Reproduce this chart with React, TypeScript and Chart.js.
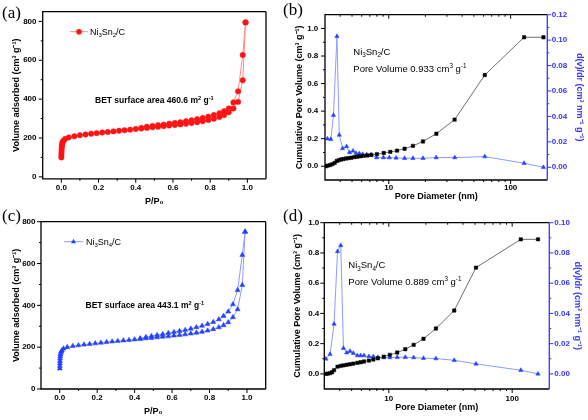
import React, { useEffect, useRef } from "react";
import { Chart, registerables } from "chart.js";

Chart.register(...registerables);

const SANS = "'Liberation Sans', Arial, Helvetica, sans-serif";
const SERIF = "'Liberation Serif', 'Times New Roman', serif";
const W = 588;
const H = 420;

// ---------- (a) Ni3Sn2/C N2 isotherm ----------
const aAdsP = [0.0003, 0.0006, 0.001, 0.0015, 0.002, 0.003, 0.004, 0.006, 0.008, 0.012, 0.02, 0.04, 0.07, 0.1, 0.13, 0.16, 0.19, 0.22, 0.25, 0.28, 0.31, 0.34, 0.37, 0.4, 0.43, 0.46, 0.49, 0.52, 0.55, 0.58, 0.61, 0.64, 0.67, 0.7, 0.73, 0.76, 0.79, 0.82, 0.85, 0.875, 0.9, 0.925, 0.95, 0.975, 0.99];
const aAdsV = [100, 112, 124, 136, 148, 158, 167, 175, 181, 186, 195, 203, 209, 214, 218, 222, 225, 228, 231, 234, 237, 240, 243, 246, 249, 252, 255, 258, 261, 264, 267, 270, 273, 277, 281, 286, 292, 299, 308, 318, 332, 352, 386, 497, 795];
const aDesP = [0.99, 0.975, 0.95, 0.925, 0.9, 0.875, 0.85, 0.82, 0.79, 0.76, 0.73, 0.7, 0.67, 0.64, 0.61, 0.58, 0.55, 0.52, 0.49, 0.46, 0.43];
const aDesV = [795, 627, 440, 383, 352, 338, 327, 318, 310, 303, 297, 291, 286, 281, 277, 273, 269, 266, 262, 258, 252];

// ---------- (c) Ni3Sn4/C N2 isotherm ----------
const cAdsP = [0.0003, 0.0006, 0.001, 0.0015, 0.002, 0.003, 0.004, 0.006, 0.008, 0.012, 0.02, 0.04, 0.07, 0.1, 0.13, 0.16, 0.19, 0.22, 0.25, 0.28, 0.31, 0.34, 0.37, 0.4, 0.43, 0.46, 0.49, 0.52, 0.55, 0.58, 0.61, 0.64, 0.67, 0.7, 0.73, 0.76, 0.79, 0.82, 0.85, 0.875, 0.9, 0.925, 0.95, 0.975, 0.99];
const cAdsV = [98, 110, 122, 134, 146, 156, 165, 173, 179, 184, 193, 200, 205, 209, 212, 215, 218, 221, 224, 227, 229, 232, 234, 237, 239, 242, 244, 247, 250, 252, 255, 258, 261, 265, 269, 273, 279, 286, 295, 305, 319, 343, 381, 497, 752];
const cDesP = [0.99, 0.975, 0.95, 0.925, 0.9, 0.875, 0.85, 0.82, 0.79, 0.76, 0.73, 0.7, 0.67, 0.64, 0.61, 0.58, 0.55, 0.52, 0.49, 0.46, 0.43];
const cDesV = [752, 641, 473, 405, 370, 349, 333, 320, 310, 302, 295, 288, 282, 277, 272, 267, 262, 258, 253, 248, 242];

// ---------- (b) Ni3Sn2/C pore distribution ----------
const bCumD = [3.05, 3.15, 3.3, 3.45, 3.6, 3.75, 3.9, 4.06, 4.24, 4.46, 4.68, 4.93, 5.22, 5.52, 5.85, 6.23, 6.68, 7.2, 8.0, 9.1, 10.3, 11.7, 13.5, 15.8, 19.1, 24.6, 34.7, 61.4, 129, 186];
const bCumV = [0.0, 0.004, 0.009, 0.015, 0.024, 0.038, 0.044, 0.049, 0.052, 0.056, 0.059, 0.062, 0.066, 0.069, 0.072, 0.075, 0.078, 0.082, 0.088, 0.096, 0.104, 0.113, 0.127, 0.148, 0.18, 0.236, 0.338, 0.662, 0.936, 0.936];
const bDvD = [3.14, 3.35, 3.52, 3.76, 3.93, 4.18, 4.51, 4.77, 5.09, 5.39, 5.74, 6.11, 6.59, 7.16, 7.96, 9.04, 10.1, 11.5, 13.5, 15.8, 19.1, 24.5, 34.8, 61.4, 129, 186];
const bDvV = [0.0225, 0.022, 0.041, 0.103, 0.0254, 0.0148, 0.0164, 0.0116, 0.0129, 0.0111, 0.0108, 0.0103, 0.01, 0.0098, 0.0076, 0.0076, 0.0076, 0.0074, 0.0071, 0.0071, 0.0071, 0.0076, 0.0076, 0.0084, 0.0032, 0.0];

// ---------- (d) Ni3Sn4/C pore distribution ----------
const dCumD = [3.09, 3.2, 3.34, 3.47, 3.6, 3.84, 4.08, 4.29, 4.56, 4.85, 5.16, 5.56, 5.91, 6.29, 6.9, 7.49, 8.15, 9.1, 10.2, 11.7, 13.6, 15.9, 19.1, 24.1, 33.9, 50.9, 117.5, 162];
const dCumV = [0.0, 0.002, 0.005, 0.011, 0.025, 0.048, 0.053, 0.056, 0.06, 0.064, 0.068, 0.073, 0.077, 0.082, 0.088, 0.095, 0.103, 0.114, 0.126, 0.141, 0.163, 0.192, 0.232, 0.3, 0.419, 0.703, 0.89, 0.89];
const dDvD = [3.09, 3.34, 3.6, 3.84, 4.08, 4.29, 4.56, 4.85, 5.16, 5.56, 5.91, 6.29, 6.9, 7.49, 8.15, 9.1, 10.2, 11.7, 13.6, 15.9, 19.1, 24.1, 33.9, 50.9, 117.5, 162];
const dDvV = [0.0099, 0.013, 0.033, 0.081, 0.085, 0.017, 0.014, 0.015, 0.0137, 0.0121, 0.0121, 0.0121, 0.0115, 0.0115, 0.011, 0.0108, 0.0108, 0.011, 0.011, 0.0108, 0.0104, 0.0101, 0.009, 0.0066, 0.0024, 0.0];

// ---------- tick lists ----------
const isoXTicks = [0, 0.2, 0.4, 0.6, 0.8, 1.0];
const isoXMinor = [0.1, 0.3, 0.5, 0.7, 0.9];
const isoYTicks = [0, 200, 400, 600, 800];
const isoYMinor = [100, 300, 500, 700];
const poreXTicks = [10, 100];
const poreXMinor = [4, 5, 6, 7, 8, 9, 20, 30, 40, 50, 60, 70, 80, 90];
const cumTicks = [0, 0.2, 0.4, 0.6, 0.8, 1.0];
const cumMinor = [0.1, 0.3, 0.5, 0.7, 0.9];
const dvTicksB = [0, 0.02, 0.04, 0.06, 0.08, 0.1, 0.12];
const dvMinorB = [0.01, 0.03, 0.05, 0.07, 0.09, 0.11];
const dvTicksD = [0, 0.02, 0.04, 0.06, 0.08, 0.1];
const dvMinorD = [0.01, 0.03, 0.05, 0.07, 0.09];

// ---------- colours ----------
const RED = "#ff1212";
const RED_LINE = "#ff8a8a";
const BLUE = "#2440ff";
const BLUE_LINE = "#8d9cff";
const AXIS_BLUE = "#3434ff";
const GREY_LINE = "#707070";

const TICK_SIZE = 8;
const TITLE_SIZE = 9;
const TICK_FONT = { family: SANS, size: TICK_SIZE, weight: "bold" as const };
const TITLE_FONT = { family: SANS, size: TITLE_SIZE, weight: "bold" as const };
const TICK_HALF = (TICK_SIZE * 1.2) / 2;
const TITLE_HALF = (TITLE_SIZE * 1.2) / 2;

type Seg = [string, number]; // 0 normal, 1 sub, 2 sup
const pts = (xs: number[], ys: number[]) => xs.map((x, i) => ({ x, y: ys[i] }));
const f1 = (v: number) => v.toFixed(1);
const f2 = (v: number) => v.toFixed(2);
const f0 = (v: number) => String(Math.round(v));

function noPad(s: any) {
  s.paddingLeft = 0;
  s.paddingRight = 0;
  s.paddingTop = 0;
  s.paddingBottom = 0;
}

function xScale(area: any, o: any) {
  return {
    type: o.type,
    position: "bottom",
    min: o.min,
    max: o.max,
    grid: { display: false, drawTicks: false },
    border: { display: false },
    ticks: {
      autoSkip: false,
      maxRotation: 0,
      minRotation: 0,
      padding: o.labelCY - area.b - TICK_HALF,
      font: TICK_FONT,
      color: "#000",
      callback: (v: any) => o.fmt(Number(v)),
    },
    title: { display: true, text: o.title, color: "#000", font: TITLE_FONT, padding: { top: 0, bottom: H - TITLE_HALF - o.titleY } },
    afterBuildTicks: (s: any) => {
      s.ticks = o.labels.map((v: number) => ({ value: v }));
    },
    afterFit: (s: any) => {
      s.height = H - area.b;
      noPad(s);
    },
  };
}

function yLeft(area: any, o: any) {
  return {
    type: "linear",
    position: "left",
    min: o.min,
    max: o.max,
    grid: { display: false, drawTicks: false },
    border: { display: false },
    ticks: { autoSkip: false, padding: area.l - o.labelRight, font: TICK_FONT, color: "#000", callback: (v: any) => o.fmt(Number(v)) },
    title: { display: true, text: o.title, color: "#000", font: TITLE_FONT, padding: { top: o.titleX - TITLE_HALF, bottom: 0 } },
    afterBuildTicks: (s: any) => {
      s.ticks = o.labels.map((v: number) => ({ value: v }));
    },
    afterFit: (s: any) => {
      s.width = area.l;
      noPad(s);
    },
  };
}

function yRight(area: any, o: any) {
  return {
    type: "linear",
    position: "right",
    min: o.min,
    max: o.max,
    grid: { display: false, drawTicks: false },
    border: { display: false },
    ticks: { autoSkip: false, padding: o.labelLeft - area.r, font: TICK_FONT, color: AXIS_BLUE, callback: (v: any) => o.fmt(Number(v)) },
    title: { display: true, text: o.title, color: AXIS_BLUE, font: TITLE_FONT, padding: { top: W - TITLE_HALF - o.titleX, bottom: 0 } },
    afterBuildTicks: (s: any) => {
      s.ticks = o.labels.map((v: number) => ({ value: v }));
    },
    afterFit: (s: any) => {
      s.width = W - area.r;
      noPad(s);
    },
  };
}

function drawRich(ctx: CanvasRenderingContext2D, x: number, cy: number, segs: Seg[], size: number, weight: string, color: string) {
  let cx = x;
  const base = cy + size * 0.36;
  ctx.fillStyle = color;
  ctx.textAlign = "left";
  ctx.textBaseline = "alphabetic";
  for (const [t, m] of segs) {
    const s = m ? size * 0.66 : size;
    ctx.font = `${weight} ${s}px ${SANS}`;
    const dy = m === 1 ? size * 0.24 : m === 2 ? -size * 0.4 : 0;
    ctx.fillText(t, cx, base + dy);
    cx += ctx.measureText(t).width;
  }
}

function drawMarker(ctx: CanvasRenderingContext2D, kind: string, x: number, y: number, r: number, color: string) {
  ctx.fillStyle = color;
  ctx.beginPath();
  if (kind === "circle") {
    ctx.arc(x, y, r, 0, Math.PI * 2);
  } else {
    ctx.moveTo(x, y - r);
    ctx.lineTo(x + 0.866 * r, y + 0.5 * r);
    ctx.lineTo(x - 0.866 * r, y + 0.5 * r);
    ctx.closePath();
  }
  ctx.fill();
}

function makeFramePlugin(p: any) {
  return {
    id: "frameTicks",
    afterDraw(chart: any) {
      const { ctx, chartArea: a } = chart;
      const L = a.left, R = a.right, T = a.top, B = a.bottom;
      ctx.save();
      ctx.lineWidth = 1.3;
      ctx.strokeStyle = "#000";
      ctx.beginPath();
      ctx.moveTo(R, T);
      ctx.lineTo(L, T);
      ctx.lineTo(L, B);
      ctx.lineTo(R, B);
      ctx.stroke();
      ctx.strokeStyle = p.rightColor || "#000";
      ctx.beginPath();
      ctx.moveTo(R, T);
      ctx.lineTo(R, B);
      ctx.stroke();
      ctx.lineWidth = 1;
      for (const spec of p.tickSpecs) {
        const s = chart.scales[spec.id];
        ctx.strokeStyle = spec.color || "#000";
        const groups: [number[], number][] = [
          [spec.major, 4],
          [spec.minor, 2],
        ];
        for (const [vals, len] of groups) {
          for (const v of vals) {
            const q = s.getPixelForValue(v);
            ctx.beginPath();
            if (spec.side === "bottom") {
              ctx.moveTo(q, B);
              ctx.lineTo(q, B + len);
            } else if (spec.side === "top") {
              ctx.moveTo(q, T);
              ctx.lineTo(q, T + len);
            } else if (spec.side === "left") {
              ctx.moveTo(L - len, q);
              ctx.lineTo(L, q);
            } else {
              ctx.moveTo(R, q);
              ctx.lineTo(R + len, q);
            }
            ctx.stroke();
          }
        }
      }
      ctx.restore();
    },
  };
}

function makeAnnotPlugin(p: any) {
  return {
    id: "annot",
    afterDraw(chart: any) {
      const ctx: CanvasRenderingContext2D = chart.ctx;
      ctx.save();
      // panel label
      ctx.font = `17px ${SERIF}`;
      ctx.fillStyle = "#000";
      ctx.textAlign = "left";
      ctx.textBaseline = "middle";
      ctx.fillText(p.panel.text, p.panel.x, p.panel.y);
      for (const it of p.items) {
        if (it.kind === "legend") {
          ctx.strokeStyle = it.lineColor;
          ctx.lineWidth = 1;
          ctx.beginPath();
          ctx.moveTo(it.x1, it.cy);
          ctx.lineTo(it.x2, it.cy);
          ctx.stroke();
          drawMarker(ctx, it.marker, it.mx, it.cy, it.r, it.markerColor);
          drawRich(ctx, it.textX, it.cy, it.segs, it.size, it.weight, "#000");
        } else {
          drawRich(ctx, it.x, it.cy, it.segs, it.size, it.weight, it.color || "#000");
        }
      }
      ctx.restore();
    },
  };
}

const lineDs = (data: any[], lineColor: string, ptColor: string, style: string, r: number, axis?: string) => ({
  data,
  borderColor: lineColor,
  borderWidth: 1,
  backgroundColor: ptColor,
  pointBackgroundColor: ptColor,
  pointBorderColor: ptColor,
  pointBorderWidth: 0.5,
  pointStyle: style,
  pointRadius: r,
  tension: 0,
  fill: false,
  yAxisID: axis || "y",
});

const SUB_NI3SN2: Seg[] = [["Ni", 0], ["3", 1], ["Sn", 0], ["2", 1], ["/C", 0]];
const SUB_NI3SN4: Seg[] = [["Ni", 0], ["3", 1], ["Sn", 0], ["4", 1], ["/C", 0]];

const PANELS: any[] = [
  {
    area: { l: 42.7, t: 11.7, r: 266, b: 178.8 },
    x: { type: "linear", min: -0.1, max: 1.1, labels: isoXTicks, fmt: f1, title: "P/P\u2080", titleY: 201.7, labelCY: 188 },
    y: { min: -10, max: 850, labels: isoYTicks, fmt: f0, title: "Volume adsorbed (cm\u00b3 g\u207b\u00b9)", titleX: 17, labelRight: 36.5 },
    datasets: [lineDs(pts(aDesP, aDesV), RED_LINE, RED, "circle", 2.7), lineDs(pts(aAdsP, aAdsV), RED_LINE, RED, "circle", 2.7)],
    frame: {
      tickSpecs: [
        { id: "x", side: "bottom", major: isoXTicks, minor: isoXMinor },
        { id: "y", side: "left", major: isoYTicks, minor: isoYMinor },
      ],
    },
    panel: { text: "(a)", x: 2, y: 13.5 },
    items: [
      { kind: "legend", x1: 70, x2: 88, mx: 79, cy: 31.7, r: 2.8, marker: "circle", markerColor: RED, lineColor: RED_LINE, textX: 90, segs: SUB_NI3SN2, size: 9, weight: "normal" },
      { kind: "text", x: 95, cy: 100, segs: [["BET surface area 460.6 m", 0], ["2", 2], [" g", 0], ["-1", 2]], size: 8.5, weight: "bold" },
    ],
  },
  {
    area: { l: 325, t: 14.7, r: 547.3, b: 180 },
    x: { type: "logarithmic", min: 3, max: 200, labels: poreXTicks, fmt: f0, title: "Pore Diameter (nm)", titleY: 196.7, labelCY: 188 },
    y: { min: -0.1, max: 1.1, labels: cumTicks, fmt: f1, title: "Cumulative Pore Volume (cm\u00b3 g\u207b\u00b9)", titleX: 300, labelRight: 318.3 },
    y2: { min: -0.01, max: 0.12, labels: dvTicksB, fmt: f2, title: "d(v)/dr (cm\u00b3 nm\u207b\u00b9 g\u207b\u00b9)", titleX: 579, labelLeft: 551.7 },
    datasets: [lineDs(pts(bCumD, bCumV), GREY_LINE, "#000", "rect", 2.4, "y"), lineDs(pts(bDvD, bDvV), BLUE_LINE, BLUE, "triangle", 2.5, "y2")],
    frame: {
      rightColor: AXIS_BLUE,
      tickSpecs: [
        { id: "x", side: "bottom", major: poreXTicks, minor: poreXMinor },
        { id: "x", side: "top", major: poreXTicks, minor: poreXMinor },
        { id: "y", side: "left", major: cumTicks, minor: cumMinor },
        { id: "y2", side: "right", major: dvTicksB, minor: dvMinorB, color: AXIS_BLUE },
      ],
    },
    panel: { text: "(b)", x: 283, y: 10.5 },
    items: [
      { kind: "text", x: 353.3, cy: 51.7, segs: SUB_NI3SN2, size: 9.5, weight: "normal" },
      { kind: "text", x: 353.3, cy: 68.3, segs: [["Pore Volume 0.933 cm", 0], ["3", 2], [" g", 0], ["-1", 2]], size: 9.5, weight: "normal" },
    ],
  },
  {
    area: { l: 41, t: 221.7, r: 265.7, b: 389 },
    x: { type: "linear", min: -0.1, max: 1.1, labels: isoXTicks, fmt: f1, title: "P/P\u2080", titleY: 411.7, labelCY: 397.7 },
    y: { min: 0, max: 800, labels: isoYTicks, fmt: f0, title: "Volume adsorbed (cm\u00b3 g\u207b\u00b9)", titleX: 16.5, labelRight: 35.5 },
    datasets: [lineDs(pts(cDesP, cDesV), BLUE_LINE, BLUE, "triangle", 2.9), lineDs(pts(cAdsP, cAdsV), BLUE_LINE, BLUE, "triangle", 2.9)],
    frame: {
      tickSpecs: [
        { id: "x", side: "bottom", major: isoXTicks, minor: isoXMinor },
        { id: "y", side: "left", major: isoYTicks, minor: isoYMinor },
      ],
    },
    panel: { text: "(c)", x: 2, y: 216.5 },
    items: [
      { kind: "legend", x1: 64, x2: 83, mx: 73.5, cy: 241.7, r: 2.9, marker: "triangle", markerColor: BLUE, lineColor: BLUE_LINE, textX: 86, segs: SUB_NI3SN4, size: 9, weight: "normal" },
      { kind: "text", x: 85.5, cy: 305, segs: [["BET surface area 443.1 m", 0], ["2", 2], [" g", 0], ["-1", 2]], size: 8.5, weight: "bold" },
    ],
  },
  {
    area: { l: 324.3, t: 222.7, r: 549.3, b: 389 },
    x: { type: "logarithmic", min: 3, max: 200, labels: poreXTicks, fmt: f0, title: "Pore Diameter (nm)", titleY: 407.7, labelCY: 398.3 },
    y: { min: -0.1, max: 1.0, labels: cumTicks, fmt: f1, title: "Cumulative Pore Volume (cm\u00b3 g\u207b\u00b9)", titleX: 297.5, labelRight: 319.3 },
    y2: { min: -0.01, max: 0.1, labels: dvTicksD, fmt: f2, title: "d(v)/dr (cm\u00b3 nm\u207b\u00b9 g\u207b\u00b9)", titleX: 577, labelLeft: 554.3 },
    datasets: [lineDs(pts(dCumD, dCumV), GREY_LINE, "#000", "rect", 2.4, "y"), lineDs(pts(dDvD, dDvV), BLUE_LINE, BLUE, "triangle", 2.5, "y2")],
    frame: {
      rightColor: AXIS_BLUE,
      tickSpecs: [
        { id: "x", side: "bottom", major: poreXTicks, minor: poreXMinor },
        { id: "x", side: "top", major: poreXTicks, minor: poreXMinor },
        { id: "y", side: "left", major: cumTicks, minor: cumMinor },
        { id: "y2", side: "right", major: dvTicksD, minor: dvMinorD, color: AXIS_BLUE },
      ],
    },
    panel: { text: "(d)", x: 283, y: 217 },
    items: [
      { kind: "text", x: 348.3, cy: 265, segs: SUB_NI3SN4, size: 9.5, weight: "normal" },
      { kind: "text", x: 348.3, cy: 281.7, segs: [["Pore Volume 0.889 cm", 0], ["3", 2], [" g", 0], ["-1", 2]], size: 9.5, weight: "normal" },
    ],
  },
];

function makeConfig(p: any): any {
  const scales: any = { x: xScale(p.area, p.x), y: yLeft(p.area, p.y) };
  if (p.y2) scales.y2 = yRight(p.area, p.y2);
  return {
    type: "line",
    data: { datasets: p.datasets },
    options: {
      responsive: false,
      maintainAspectRatio: false,
      animation: false,
      devicePixelRatio: 1,
      events: [],
      layout: { padding: { left: 0, top: p.area.t, right: p.y2 ? 0 : W - p.area.r, bottom: 0 } },
      scales,
      plugins: { legend: { display: false }, tooltip: { enabled: false } },
    },
    plugins: [makeFramePlugin(p.frame), makeAnnotPlugin(p)],
  };
}

export default function App() {
  const r0 = useRef<HTMLCanvasElement>(null);
  const r1 = useRef<HTMLCanvasElement>(null);
  const r2 = useRef<HTMLCanvasElement>(null);
  const r3 = useRef<HTMLCanvasElement>(null);
  const refs = [r0, r1, r2, r3];

  useEffect(() => {
    const charts = PANELS.map((p, i) => new Chart(refs[i].current as HTMLCanvasElement, makeConfig(p)));
    return () => charts.forEach((c) => c.destroy());
  }, []);

  return (
    <div style={{ position: "fixed", left: 0, top: 0, width: W, height: H, background: "#fff", overflow: "hidden" }}>
      {refs.map((r, i) => (
        <canvas key={i} ref={r} width={W} height={H} style={{ position: "absolute", left: 0, top: 0, width: W, height: H }} />
      ))}
    </div>
  );
}
